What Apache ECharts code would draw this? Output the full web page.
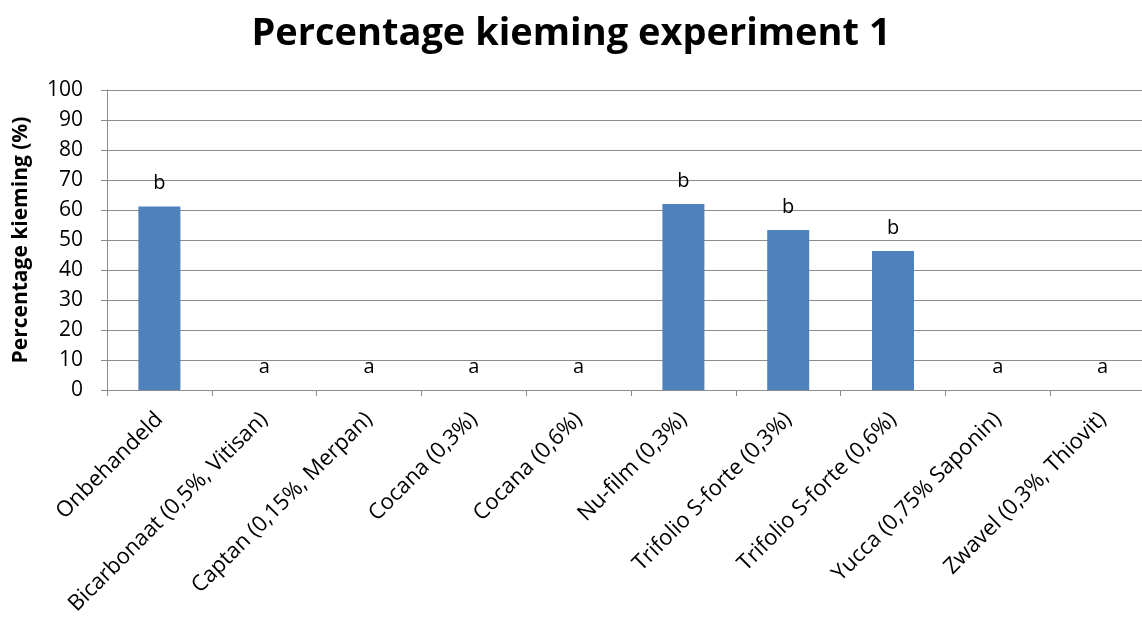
<!DOCTYPE html>
<html>
<head>
<meta charset="utf-8">
<script src="https://cdn.jsdelivr.net/npm/echarts@6/dist/echarts.min.js"></script>
<style>
  html, body { margin: 0; padding: 0; background: #fff; }
  #chart { width: 1142px; height: 618px; }
</style>
</head>
<body>
<div id="chart"></div>
<script>
let categories = [
  "Onbehandeld",
  "Bicarbonaat (0,5%, Vitisan)",
  "Captan (0,15%, Merpan)",
  "Cocana (0,3%)",
  "Cocana (0,6%)",
  "Nu-film (0,3%)",
  "Trifolio S-forte (0,3%)",
  "Trifolio S-forte (0,6%)",
  "Yucca (0,75% Saponin)",
  "Zwavel (0,3%, Thiovit)",
];
let kieming = [61.2, 0, 0, 0, 0, 62, 53.3, 46.3, 0, 0];
let letters = ["b", "a", "a", "a", "a", "b", "b", "b", "a", "a"];

let font = "Open Sans";
let chart = echarts.init(document.getElementById("chart"));

chart.setOption({
  animation: false,
  title: {
    text: "Percentage kieming experiment 1",
    left: "center",
    top: 10,
    textStyle: {
      fontFamily: font,
      fontSize: 38,
      fontWeight: "bold",
      color: "#000000",
    },
  },
  grid: {
    left: 107,
    top: 90,
    width: 1048,
    height: 300,
    outerBoundsMode: "none",
  },
  xAxis: {
    type: "category",
    data: categories,
    axisLine: { lineStyle: { color: "#8c8c8c" } },
    axisTick: { show: true, length: 6, lineStyle: { color: "#8c8c8c" } },
    axisLabel: {
      interval: 0,
      rotate: 45,
      margin: 26,
      color: "#000000",
      fontFamily: font,
      fontSize: 22,
    },
  },
  yAxis: {
    type: "value",
    min: 0,
    max: 100,
    interval: 10,
    name: "Percentage kieming (%)",
    nameLocation: "middle",
    nameGap: 75,
    nameTextStyle: {
      fontFamily: font,
      fontSize: 21,
      fontWeight: "bold",
      color: "#000000",
    },
    axisLine: { show: true, lineStyle: { color: "#8c8c8c" } },
    axisTick: { show: true, length: 6, lineStyle: { color: "#8c8c8c" } },
    axisLabel: {
      margin: 24,
      color: "#000000",
      fontFamily: font,
      fontSize: 21,
    },
    splitLine: { lineStyle: { color: "#8c8c8c", width: 1 } },
  },
  series: [
    {
      type: "bar",
      data: kieming,
      barWidth: 42,
      itemStyle: { color: "#4f81bd" },
      label: {
        show: true,
        position: "top",
        distance: 13,
        color: "#000000",
        fontFamily: font,
        fontSize: 20,
        formatter: (p) => letters[p.dataIndex],
      },
    },
  ],
});
</script>
</body>
</html>
